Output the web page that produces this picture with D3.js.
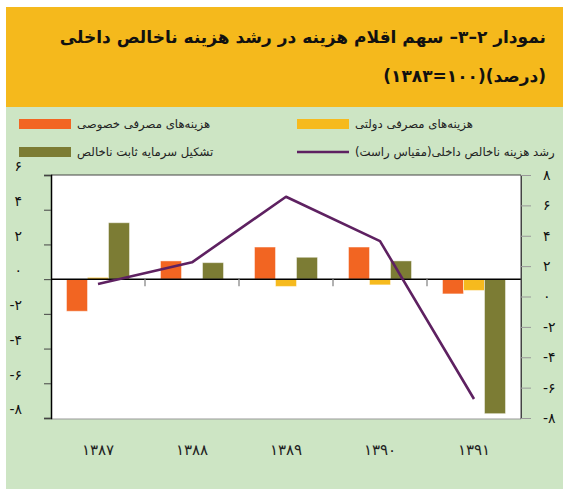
<!DOCTYPE html>
<meta charset="utf-8">
<style>
  body { margin: 0; background: #fff; }
  svg text { font-family: "DejaVu Sans", sans-serif; }
</style>
<body>
<div id="chart"></div>
<script src="https://d3js.org/d3.v7.min.js"></script>
<script>
// data
var years = ["۱۳۸۷", "۱۳۸۸", "۱۳۸۹", "۱۳۹۰", "۱۳۹۱"];
var privateCons = [-1.85, 1.05, 1.85, 1.85, -0.85];
var govCons = [0.1, 0, -0.42, -0.33, -0.65];
var fixedCapital = [3.25, 0.95, 1.26, 1.05, -7.75];
var gdpGrowth = [0.82, 2.25, 6.57, 3.65, -6.75];   // right scale

var seriesNames = ["هزینه‌های مصرفی خصوصی", "هزینه‌های مصرفی دولتی", "تشکیل سرمایه ثابت ناخالص"];
var lineName = "رشد هزینه ناخالص داخلی(مقیاس راست)";
var leftTicks = [6, 4, 2, 0, -2, -4, -6, -8];
var rightTicks = [8, 6, 4, 2, 0, -2, -4, -6, -8];
var title1 = "نمودار ۲–۳– سهم اقلام هزینه در رشد هزینه ناخالص داخلی";
var title2 = "(درصد)(۱۰۰=۱۳۸۳)";

var colors = ["#F26522", "#F6BA1E", "#7C7C34"];
var lineColor = "#5E2161";

var W = 563, H = 489;
var plot = { left: 51, right: 521, top: 175, bottom: 419 };

function fa(n) {
  // persian digits
  var s = String(Math.abs(n)).replace(/\d/g, function(c) { return "۰۱۲۳۴۵۶۷۸۹"[+c]; });
  return n < 0 ? "-" + s : s;
}

var svg = d3.select("#chart").append("svg")
  .attr("width", W).attr("height", H);

// backgrounds
svg.append("rect").attr("x", 6).attr("y", 7).attr("width", W - 6).attr("height", 100).attr("fill", "#F5B91C");
svg.append("rect").attr("x", 6).attr("y", 107).attr("width", W - 6).attr("height", H - 107).attr("fill", "#CDE5C4");

// title
svg.append("text").attr("x", 546).attr("y", 43)
  .attr("direction", "rtl").attr("text-anchor", "start")
  .attr("font-size", "17px").attr("font-weight", "bold").attr("fill", "#111")
  .text(title1);
svg.append("text").attr("x", 546).attr("y", 82)
  .attr("direction", "rtl").attr("text-anchor", "start")
  .attr("font-size", "17px").attr("font-weight", "bold").attr("fill", "#111")
  .text(title2);

// legend
var legendItems = [
  { name: seriesNames[0], color: colors[0], x: 19, y: 124, type: "bar" },
  { name: seriesNames[1], color: colors[1], x: 297, y: 124, type: "bar" },
  { name: seriesNames[2], color: colors[2], x: 19, y: 152, type: "bar" },
  { name: lineName, color: lineColor, x: 297, y: 152, type: "line" }
];
var lg = svg.append("g").selectAll("g").data(legendItems).enter().append("g");
lg.filter(function(d) { return d.type == "bar"; }).append("rect")
  .attr("x", function(d) { return d.x; })
  .attr("y", function(d) { return d.y - 5; })
  .attr("width", 52).attr("height", 10)
  .attr("fill", function(d) { return d.color; });
lg.filter(function(d) { return d.type == "line"; }).append("line")
  .attr("x1", function(d) { return d.x; })
  .attr("x2", function(d) { return d.x + 52; })
  .attr("y1", function(d) { return d.y; })
  .attr("y2", function(d) { return d.y; })
  .attr("stroke", function(d) { return d.color; })
  .attr("stroke-width", 2.6);
lg.append("text")
  .attr("x", function(d) { return d.x + 58; })
  .attr("y", function(d) { return d.y; })
  .attr("dy", "0.35em")
  .attr("direction", "rtl").attr("text-anchor", "end")
  .attr("font-size", "11.7px").attr("fill", "#222")
  .text(function(d) { return d.name; });

// scales
var x = d3.scaleBand().domain(years).range([plot.left, plot.right]).padding(0);
var xSub = d3.scaleBand().domain([0, 1, 2]).range([15.5, 78.5]).padding(0);
var yL = d3.scaleLinear().domain([-8, 6]).range([plot.bottom - 1, plot.top]);
var yR = d3.scaleLinear().domain([-8, 8]).range([plot.bottom - 1, plot.top]);

// plot area
svg.append("rect")
  .attr("x", plot.left).attr("y", plot.top)
  .attr("width", plot.right - plot.left).attr("height", plot.bottom - plot.top)
  .attr("fill", "#fff");

// bars
var table = years.map(function(yr, i) {
  return { year: yr, vals: [privateCons[i], govCons[i], fixedCapital[i]] };
});
svg.append("g").selectAll("g").data(table).enter().append("g")
  .attr("transform", function(d) { return "translate(" + x(d.year) + ",0)"; })
  .selectAll("rect")
  .data(function(d) { return d.vals.map(function(v, k) { return { k: k, v: v }; }); })
  .enter().append("rect")
    .attr("x", function(d) { return xSub(d.k); })
    .attr("width", xSub.bandwidth())
    .attr("y", function(d) { return Math.min(yL(d.v), yL(0)); })
    .attr("height", function(d) { return Math.abs(yL(d.v) - yL(0)); })
    .attr("fill", function(d) { return colors[d.k]; })
    .attr("stroke", "rgba(255,255,255,0.45)")
    .attr("stroke-width", 1);

// zero line + category ticks
svg.append("line")
  .attr("x1", plot.left).attr("x2", plot.right)
  .attr("y1", yL(0)).attr("y2", yL(0))
  .attr("stroke", "#000").attr("stroke-width", 1.5);
svg.append("g").selectAll("line").data(years.slice(1)).enter().append("line")
  .attr("x1", function(d) { return x(d); })
  .attr("x2", function(d) { return x(d); })
  .attr("y1", yL(0)).attr("y2", yL(0) + 7)
  .attr("stroke", "#999").attr("stroke-width", 1.5);

// frame
svg.append("line").attr("x1", plot.left).attr("x2", plot.right)
  .attr("y1", plot.top).attr("y2", plot.top).attr("stroke", "#444").attr("stroke-width", 1);
svg.append("line").attr("x1", plot.left).attr("x2", plot.right)
  .attr("y1", plot.bottom).attr("y2", plot.bottom).attr("stroke", "#999").attr("stroke-width", 1.2);
svg.append("line").attr("x1", plot.right).attr("x2", plot.right)
  .attr("y1", plot.top).attr("y2", plot.bottom).attr("stroke", "#444").attr("stroke-width", 1);

// line series on right scale
var line = d3.line()
  .x(function(d, i) { return x(years[i]) + x.bandwidth() / 2; })
  .y(function(d) { return yR(d); });
svg.append("path").datum(gdpGrowth)
  .attr("d", line)
  .attr("fill", "none")
  .attr("stroke", lineColor)
  .attr("stroke-width", 2.6)
  .attr("stroke-linejoin", "round");

// left axis
var axL = svg.append("g")
  .attr("transform", "translate(" + plot.left + ",0)")
  .call(d3.axisLeft(yL).tickValues(leftTicks).tickSize(7).tickPadding(0).tickFormat(fa));
axL.select(".domain").attr("stroke", "#000").attr("stroke-width", 1.5);
axL.selectAll(".tick line").attr("stroke", "#444");
axL.selectAll(".tick text")
  .attr("x", -29).attr("dy", "-0.3em")
  .attr("font-size", "14px").attr("fill", "#111")
  .style("font-family", "DejaVu Sans");

// right axis
var axR = svg.append("g")
  .attr("transform", "translate(" + plot.right + ",0)")
  .call(d3.axisRight(yR).tickValues(rightTicks).tickSize(10).tickPadding(0).tickFormat(fa));
axR.select(".domain").attr("stroke", "#444").attr("stroke-width", 1);
axR.selectAll(".tick line").attr("stroke", "#999");
axR.selectAll(".tick text")
  .attr("x", 22)
  .attr("font-size", "14px").attr("fill", "#111")
  .style("font-family", "DejaVu Sans");

// category labels
var axX = svg.append("g")
  .attr("transform", "translate(0," + plot.bottom + ")")
  .call(d3.axisBottom(x).tickSize(0).tickPadding(0));
axX.select(".domain").remove();
axX.selectAll(".tick text")
  .attr("y", 31).attr("dy", "0.35em")
  .attr("font-size", "15px").attr("fill", "#222")
  .style("font-family", "DejaVu Sans");
</script>
</body>
